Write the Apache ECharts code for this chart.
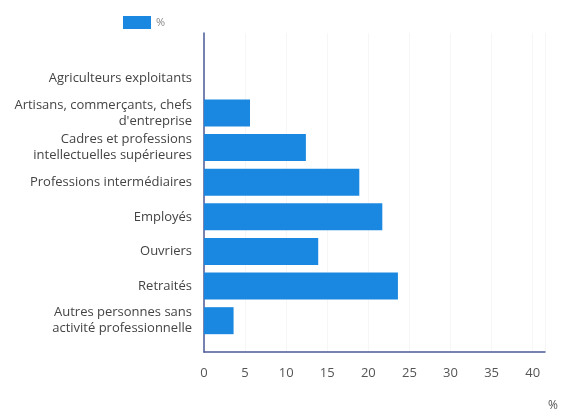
<!DOCTYPE html>
<html>
<head>
<meta charset="utf-8">
<script src="https://cdn.jsdelivr.net/npm/echarts@6/dist/echarts.min.js"></script>
<style>
  html, body { margin: 0; padding: 0; background: #ffffff; }
  #chart { width: 565px; height: 410px; }
</style>
</head>
<body>
<div id="chart"></div>
<script>
// Catégories socioprofessionnelles (de haut en bas)
const categories = [
  'Agriculteurs exploitants',
  'Artisans, commerçants, chefs\nd\'entreprise',
  'Cadres et professions\nintellectuelles supérieures',
  'Professions intermédiaires',
  'Employés',
  'Ouvriers',
  'Retraités',
  'Autres personnes sans\nactivité professionnelle'
];

// Part de chaque catégorie, en %
const shares = [0, 5.6, 12.4, 18.9, 21.7, 13.9, 23.6, 3.6];

// Graduations de l'axe des valeurs
const xTicks = [0, 5, 10, 15, 20, 25, 30, 35, 40];
const xMax = 41.5;

const seriesName = '%';
const barColor = '#1a88e0';
const axisColor = '#4b5a98';
const font = '"Open Sans", "Noto Sans", sans-serif';

const chart = echarts.init(document.getElementById('chart'), null, { renderer: 'canvas' });

const gridLeft = 204;
const gridRight = 20;

chart.setOption({
  animation: false,
  backgroundColor: '#ffffff',
  textStyle: { fontFamily: font },
  title: {
    text: '%',
    left: 543,
    top: 395,
    textStyle: { fontSize: 12, fontWeight: 'normal', color: '#555', fontFamily: font }
  },
  legend: {
    left: 118,
    top: 11,
    itemWidth: 28,
    itemHeight: 13,
    itemGap: 8,
    data: [seriesName],
    icon: 'rect',
    textStyle: { fontSize: 11, color: '#888', fontFamily: font }
  },
  grid: [
    // barres
    { left: gridLeft, right: gridRight, top: 61, height: 277 },
    // cadre : lignes d'axes, graduations, quadrillage
    { left: gridLeft, right: gridRight, top: 33, bottom: 58 }
  ],
  xAxis: [
    {
      gridIndex: 0, type: 'value', min: 0, max: xMax, interval: 5,
      show: false
    },
    {
      gridIndex: 1, type: 'value', min: 0, max: xMax, interval: 5,
      axisLine: { show: true, lineStyle: { color: axisColor, width: 1.5 } },
      axisTick: { show: false },
      splitLine: { show: true, lineStyle: { color: '#f6f6f6', width: 1 } },
      axisLabel: {
        margin: 15,
        fontSize: 13,
        color: '#555',
        fontFamily: font,
        showMaxLabel: false,
        formatter: v => (xTicks.indexOf(v) >= 0 ? String(v) : '')
      }
    }
  ],
  yAxis: [
    {
      gridIndex: 0, type: 'category', data: categories, inverse: true,
      axisLine: { show: false },
      axisTick: { show: false },
      axisLabel: {
        margin: 12,
        fontSize: 13,
        lineHeight: 16,
        color: '#444',
        fontFamily: font,
        align: 'right'
      }
    },
    {
      gridIndex: 1, type: 'value', min: 0, max: 1,
      axisLine: { show: true, lineStyle: { color: axisColor, width: 1.5 } },
      axisTick: { show: false },
      axisLabel: { show: false },
      splitLine: { show: false }
    }
  ],
  series: [
    {
      name: seriesName,
      type: 'bar',
      xAxisIndex: 0,
      yAxisIndex: 0,
      data: shares,
      barCategoryGap: '22%',
      itemStyle: { color: barColor }
    }
  ]
});
</script>
</body>
</html>
